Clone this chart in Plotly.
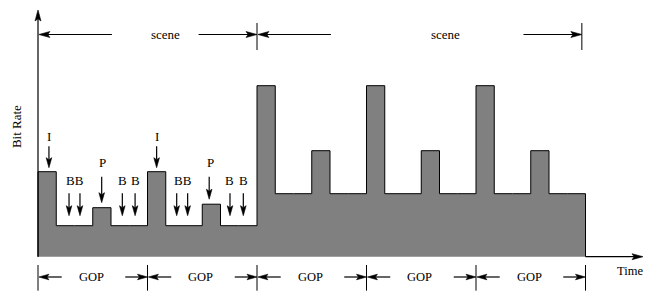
import plotly.graph_objects as go

# ---- data ----
frame_types = ["I", "B", "B", "P", "B", "B"] * 5
bit_rate = [85, 31, 31, 49, 31, 31,
            85, 31, 31, 52.5, 31, 31,
            171, 63, 63, 106, 63, 63,
            171, 63, 63, 106, 63, 63,
            171, 63, 63, 106, 63, 63]
gop_bounds = [0, 6, 12, 18, 24, 30]
scene_bounds = [0, 12, 29.8]
scene_labels = ["scene", "scene"]
gop_label = "GOP"

# frame-label layout (frame units) for the first scene
lab_text = ["I", "B", "B", "P", "B", "B", "I", "B", "B", "P", "B", "B"]
lab_x = [0.60, 1.70, 2.30, 3.49, 4.62, 5.32, 6.50, 7.60, 8.20, 9.38, 10.52, 11.25]

FONT = dict(family="Liberation Serif", size=13, color="black")
FONT_S = dict(family="Liberation Serif", size=12.5, color="black")
PX = 18.25  # pixels per frame (x); y axis: 1 unit = 1 pixel

xs = list(range(len(bit_rate) + 1))
ys = bit_rate + [bit_rate[-1]]
xs = [0] + xs + [xs[-1]]
ys = [0] + ys + [0]

fig = go.Figure()
fig.add_trace(go.Scatter(x=xs, y=ys, mode="lines", line_shape="hv",
                         fill="tozeroy", fillcolor="#808080",
                         line=dict(color="black", width=1), hoverinfo="skip"))

ann = []
shapes = []


def arrow(x0, y0, x1, y1, hl=10.0, hw=2.8):
    dxp = (x1 - x0) * PX
    dyp = (y1 - y0)
    n = (dxp ** 2 + dyp ** 2) ** 0.5
    ux, uy = dxp / n, dyp / n
    px, py = -uy, ux
    bx, by = -ux * hl, -uy * hl
    nx, ny = -ux * hl * 0.8, -uy * hl * 0.8

    def P(ox, oy):
        return f"{x1 + ox / PX},{y1 + oy}"
    shapes.append(dict(type="line", x0=x0, y0=y0, x1=x1 + nx / PX, y1=y1 + ny,
                       xref="x", yref="y", line=dict(color="black", width=1.2)))
    path = ("M" + P(0, 0) + " L" + P(bx + px * hw, by + py * hw) + " L" + P(nx, ny)
            + " L" + P(bx - px * hw, by - py * hw) + " Z")
    shapes.append(dict(type="path", path=path, xref="x", yref="y",
                       fillcolor="black", line=dict(color="black", width=0.6)))


def text(x, y, s, font=FONT, **kw):
    d = dict(x=x, y=y, xref="x", yref="y", text=s, showarrow=False, font=font)
    d.update(kw)
    ann.append(d)


# axes
arrow(0, 0, 0, 246.7, hl=11, hw=3)
arrow(30, 0, 33.15, 0, hl=11, hw=3)
text(-1.2, 129.7, "Bit Rate", textangle=-90)
text(32.45, -14.3, "Time", font=FONT_S)

# frame labels
for t, x in zip(lab_text, lab_x):
    if t == "I":
        text(x, 120.5, t)
        arrow(x, 110.5, x, 89)
    elif t == "P":
        text(x + 0.05, 94.5, t)
        top = bit_rate[int(x)]
        arrow(x, 80, x, top + 5)
b_pairs = [(1.70, 2.30), (4.62, 5.32), (7.60, 8.20), (10.52, 11.25)]
for a, b in b_pairs:
    if b - a < 0.65:
        text((a + b) / 2 + 0.05, 76.5, "BB")
    else:
        text(a, 76.5, "B")
        text(b, 76.5, "B")
    arrow(a, 63.5, a, 41)
    arrow(b, 63.5, b, 41)

# scenes
yS = 222.2
for k in range(len(scene_labels)):
    L, R = scene_bounds[k], scene_bounds[k + 1]
    arrow(L + 4.05, yS, L + 0.05, yS, hl=11, hw=3)
    arrow(R - 3.2, yS, R, yS, hl=11, hw=3)
    text(L + (R - L) * 0.58, yS, scene_labels[k])
for b in scene_bounds[1:]:
    shapes.append(dict(type="line", x0=b, x1=b, y0=233.7, y1=206.7, xref="x", yref="y",
                       line=dict(color="black", width=1)))

# GOPs
yG = -20.3
for k in range(len(gop_bounds) - 1):
    L, R = gop_bounds[k], gop_bounds[k + 1]
    arrow(L + 1.3, yG, L + 0.05, yG, hl=10, hw=2.8)
    arrow(R - 1.22, yG, R, yG, hl=10, hw=2.8)
    text(L + 2.93, yG, gop_label, font=FONT_S)
for b in gop_bounds:
    shapes.append(dict(type="line", x0=b, x1=b, y0=-8.3, y1=-34, xref="x", yref="y",
                       line=dict(color="black", width=1)))

# page body has an 8px margin: figure is 648x283 placed at (8, 8)
fig.update_layout(
    width=648, height=283, autosize=False,
    margin=dict(l=0, r=0, t=0, b=0, pad=0),
    paper_bgcolor="white", plot_bgcolor="white",
    showlegend=False,
    xaxis=dict(range=[-30 / PX, 618 / PX], visible=False, fixedrange=True),
    yaxis=dict(range=[-34.3, 248.7], visible=False, fixedrange=True),
    annotations=ann, shapes=shapes, font=FONT,
)

fig.write_html("out.html", config=dict(displayModeBar=False))
